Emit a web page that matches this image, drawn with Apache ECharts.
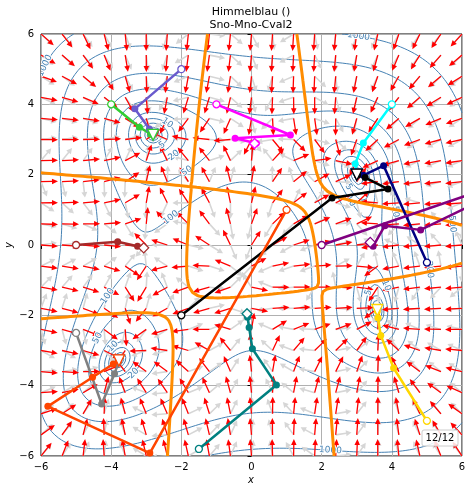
<!DOCTYPE html>
<html>
<head>
<meta charset="utf-8">
<script src="https://cdn.jsdelivr.net/npm/echarts@6/dist/echarts.min.js"></script>
<style>
  html, body { margin: 0; padding: 0; background: #fff; }
  #chart { width: 472px; height: 492px; }
</style>
</head>
<body>
<div id="chart"></div>
<script>
// ---- data ----
const xRange = [-6, 6];
const yRange = [-6, 6];
const tickValues = [-6, -4, -2, 0, 2, 4, 6];
const contourLevels = [1, 2, 5, 10, 20, 50, 100, 200, 500, 1000];
const quiverCount = 21; // arrows per side

const pathColors = ['#6a5acd', '#32cd32', '#ff00ff', '#00ffff', '#000080', '#000000',
                    '#800080', '#a52a2a', '#808080', '#ff4500', '#008080', '#ffd700'];
const pathPoints = [
  [[-2, 5], [-3.325, 3.872], [-2.909, 3.296], [-2.811, 3.142], [-2.805, 3.131]],
  [[-4, 4], [-3.193, 3.347], [-2.867, 3.151], [-2.805, 3.131]],
  [[-1, 4], [1.109, 3.128], [-0.467, 3.037], [0.138, 2.891], [0.087, 2.884]],
  [[4, 4], [3.188, 2.901], [2.957, 2.309], [2.987, 2.055], [3, 2]],
  [[5, -0.5], [3.765, 2.257], [3.189, 1.982], [3.017, 1.992], [3, 2]],
  [[-2, -2], [2.296, 1.338], [3.891, 1.592], [3.239, 1.917], [3.025, 1.989], [3, 2]],
  [[2, 0], [9.56, 2.58], [6.62, 1.30], [4.82, 0.43], [3.80, 0.55], [3.466, -0.037], [3.385, 0.074]],
  [[-5, 0], [-3.814, 0.093], [-3.248, -0.033], [-3.087, -0.077], [-3.073, -0.081]],
  [[-5, -2.5], [-4.271, -4.522], [-3.904, -3.664], [-3.794, -3.337], [-3.779, -3.283]],
  [[1, 1], [-2.898, -5.918], [-5.805, -4.588], [-4.531, -3.762], [-3.94, -3.384], [-3.789, -3.289], [-3.779, -3.283]],
  [[-1.5, -5.8], [0.71, -3.979], [0.026, -2.949], [-0.068, -2.348], [-0.113, -2.056], [-0.128, -1.954]],
  [[5, -5], [4.05, -3.497], [3.684, -2.571], [3.604, -2.068], [3.587, -1.878], [3.584, -1.848]]
];
// 'min' = ended in a minimum (triangle), 'saddle' = ended in a saddle (diamond)
const pathEnds = ['min', 'min', 'saddle', 'min', 'min', 'min',
                  'saddle', 'saddle', 'min', 'min', 'saddle', 'min'];

// contour label: level and rough spot where it sits
const labelLevels = [5, 10, 20, 50, 100, 5, 10, 50, 500, 100, 50, 10, 20, 5, 10, 200, 1000, 1000, 1000];
const labelSpots = [[-2.56, 2.84], [-2.42, 3.48], [-2.23, 2.56], [-1.85, 2.13], [-2.32, 0.81],
                    [2.83, 1.66], [2.88, 1.28], [4.08, 0.95], [5.73, 0.62],
                    [-4.14, -1.45], [-4.41, -2.64], [-3.93, -2.87], [-3.41, -3.63],
                    [3.23, -1.3], [3.83, -1.15], [5.05, -0.7],
                    [3.06, 5.9], [-5.88, 5.12], [2.26, -5.8]];

// ---- Himmelblau and its derivatives ----
function himmelblau(x, y) {
  const a = x * x + y - 11, b = x + y * y - 7;
  return a * a + b * b;
}
function gradient(x, y) {
  const a = x * x + y - 11, b = x + y * y - 7;
  return [4 * x * a + 2 * b, 2 * a + 4 * y * b];
}
function hessian(x, y) {
  return [12 * x * x + 4 * y - 42, 4 * (x + y), 12 * y * y + 4 * x - 26];
}
function hessDet(x, y) {
  const h = hessian(x, y);
  return h[0] * h[2] - h[1] * h[1];
}

// ---- marching squares ----
function makeGrid(n, fn) {
  const xs = [], ys = [], v = new Float64Array(n * n);
  for (let i = 0; i < n; i++) {
    xs.push(xRange[0] + (xRange[1] - xRange[0]) * i / (n - 1));
    ys.push(yRange[0] + (yRange[1] - yRange[0]) * i / (n - 1));
  }
  for (let j = 0; j < n; j++) for (let i = 0; i < n; i++) v[j * n + i] = fn(xs[i], ys[j]);
  return { n, xs, ys, v };
}
// cross = true draws ambiguous (saddle) cells as an X, as the reference does
function contourLines(g, level, cross) {
  const n = g.n, vals = g.v, xs = g.xs, ys = g.ys;
  const pts = new Map(), adj = new Map();
  function pt(key, i0, j0, i1, j1) {
    if (!pts.has(key)) {
      const a = vals[j0 * n + i0], b = vals[j1 * n + i1];
      const t = (level - a) / (b - a);
      pts.set(key, [xs[i0] + (xs[i1] - xs[i0]) * t, ys[j0] + (ys[j1] - ys[j0]) * t]);
    }
    return key;
  }
  function link(a, b) {
    if (!adj.has(a)) adj.set(a, []);
    if (!adj.has(b)) adj.set(b, []);
    adj.get(a).push(b); adj.get(b).push(a);
  }
  for (let j = 0; j < n - 1; j++) {
    for (let i = 0; i < n - 1; i++) {
      const v00 = vals[j * n + i], v10 = vals[j * n + i + 1];
      const v01 = vals[(j + 1) * n + i], v11 = vals[(j + 1) * n + i + 1];
      const s00 = v00 >= level, s10 = v10 >= level, s01 = v01 >= level, s11 = v11 >= level;
      const B = s00 !== s10 ? pt(2 * (j * n + i), i, j, i + 1, j) : null;
      const R = s10 !== s11 ? pt(2 * (j * n + i + 1) + 1, i + 1, j, i + 1, j + 1) : null;
      const T = s01 !== s11 ? pt(2 * ((j + 1) * n + i), i, j + 1, i + 1, j + 1) : null;
      const L = s00 !== s01 ? pt(2 * (j * n + i) + 1, i, j, i, j + 1) : null;
      const e = [B, R, T, L].filter(k => k !== null);
      if (e.length === 2) link(e[0], e[1]);
      else if (e.length === 4) {
        const sc = (v00 + v10 + v01 + v11) / 4 >= level;
        if (cross) { link(B, T); link(L, R); }
        else if (sc === s00) { link(B, R); link(T, L); } else { link(L, B); link(R, T); }
      }
    }
  }
  const lines = [], seen = new Set();
  function walk(start) {
    const line = [pts.get(start)];
    seen.add(start);
    let cur = start;
    while (true) {
      const nb = adj.get(cur).filter(k => !seen.has(k));
      if (!nb.length) {
        if (line.length > 2 && adj.get(cur).includes(start)) line.push(pts.get(start));
        break;
      }
      cur = nb[0];
      seen.add(cur);
      line.push(pts.get(cur));
    }
    return line;
  }
  for (const [k, nb] of adj) if (nb.length === 1 && !seen.has(k)) lines.push(walk(k));
  for (const k of adj.keys()) if (!seen.has(k)) lines.push(walk(k));
  return lines;
}

const fGrid = makeGrid(241, himmelblau);
const dGrid = makeGrid(101, hessDet);

const series = [];
const levelLines = {};
contourLevels.forEach(lv => {
  levelLines[lv] = contourLines(fGrid, lv, false);
  levelLines[lv].forEach(line => {
    series.push({
      type: 'line', data: line, symbol: 'none', silent: true, z: 1,
      lineStyle: { color: '#4682b4', width: 1 }
    });
  });
});
contourLines(dGrid, 0, true).forEach(line => {
  series.push({
    type: 'line', data: line, symbol: 'none', silent: true, z: 4,
    lineStyle: { color: '#ff8c00', width: 3 }
  });
});

// ---- quiver fields: steepest descent (red) and Newton step (grey) ----
const quiverPoints = [], descentDirs = [], newtonDirs = [];
for (let j = 0; j < quiverCount; j++) {
  for (let i = 0; i < quiverCount; i++) {
    const x = xRange[0] + (xRange[1] - xRange[0]) * i / (quiverCount - 1);
    const y = yRange[0] + (yRange[1] - yRange[0]) * j / (quiverCount - 1);
    const g = gradient(x, y), h = hessian(x, y);
    const gn = Math.hypot(g[0], g[1]) || 1;
    descentDirs.push([-g[0] / gn, -g[1] / gn]);
    const det = h[0] * h[2] - h[1] * h[1];
    const nx = -(h[2] * g[0] - h[1] * g[1]) / det;
    const ny = -(-h[1] * g[0] + h[0] * g[1]) / det;
    const nn = Math.hypot(nx, ny) || 1;
    newtonDirs.push([nx / nn, ny / nn]);
    quiverPoints.push([x, y]);
  }
}
function arrowSeries(dirs, st) {
  return {
    type: 'custom', coordinateSystem: 'cartesian2d', clip: true, silent: true, z: st.z,
    data: quiverPoints,
    renderItem: function (params, api) {
      const p = api.coord([api.value(0), api.value(1)]);
      const d = dirs[params.dataIndex];
      const ux = d[0], uy = -d[1];
      const nx = -uy, ny = ux;
      const L = st.len, hl = st.headLen, hw = st.headWidth / 2, w = st.width / 2;
      const bx = p[0] + ux * (L - hl), by = p[1] + uy * (L - hl);
      const pts = [
        [p[0] + nx * w, p[1] + ny * w], [bx + nx * w, by + ny * w], [bx + nx * hw, by + ny * hw],
        [p[0] + ux * L, p[1] + uy * L],
        [bx - nx * hw, by - ny * hw], [bx - nx * w, by - ny * w], [p[0] - nx * w, p[1] - ny * w]
      ];
      return { type: 'polygon', shape: { points: pts }, style: { fill: st.color } };
    }
  };
}
series.push(arrowSeries(newtonDirs, { color: '#d6d6d6', len: 16, headLen: 5.5, headWidth: 6, width: 1.6, z: 2 }));
series.push(arrowSeries(descentDirs, { color: '#ff0000', len: 17, headLen: 6, headWidth: 5.5, width: 1.3, z: 3 }));

// ---- contour labels snapped to the computed lines ----
const contourLabels = labelLevels.map((lv, k) => {
  const s = labelSpots[k];
  let best = null, bd = Infinity;
  levelLines[lv].forEach(line => {
    line.forEach((q, idx) => {
      const d = (q[0] - s[0]) ** 2 + (q[1] - s[1]) ** 2;
      if (d < bd) { bd = d; best = { line, idx }; }
    });
  });
  const ln = best.line, a = ln[Math.max(0, best.idx - 2)], b = ln[Math.min(ln.length - 1, best.idx + 2)];
  return { x: ln[best.idx][0], y: ln[best.idx][1], x1: a[0], y1: a[1], x2: b[0], y2: b[1], text: String(lv) };
});
series.push({
  type: 'custom', coordinateSystem: 'cartesian2d', clip: true, silent: true, z: 4,
  data: contourLabels.map(l => [l.x, l.y]),
  renderItem: function (params, api) {
    const l = contourLabels[params.dataIndex];
    const p = api.coord([l.x, l.y]), a = api.coord([l.x1, l.y1]), b = api.coord([l.x2, l.y2]);
    let ang = Math.atan2(b[1] - a[1], b[0] - a[0]);
    if (ang > Math.PI / 2) ang -= Math.PI;
    if (ang < -Math.PI / 2) ang += Math.PI;
    return {
      type: 'text', x: p[0], y: p[1], rotation: -ang,
      style: { text: l.text, fill: '#4682b4', font: '9px "DejaVu Sans"',
               stroke: '#fff', lineWidth: 2,
               align: 'center', verticalAlign: 'middle', textAlign: 'center', textVerticalAlign: 'middle' }
    };
  }
});

// ---- optimisation paths ----
pathPoints.forEach((pts, k) => {
  const c = pathColors[k];
  const data = pts.map((p, idx) => {
    if (idx === 0) {
      return { value: p, symbol: 'circle', symbolSize: 7, itemStyle: { color: '#fff', borderColor: c, borderWidth: 1.3 } };
    }
    if (idx === pts.length - 1) {
      const isMin = pathEnds[k] === 'min';
      return { value: p, symbol: isMin ? 'triangle' : 'diamond', symbolSize: isMin ? 11 : 10,
               symbolRotate: isMin ? 180 : 0,
               itemStyle: { color: '#fff', borderColor: c, borderWidth: 1.3 } };
    }
    return { value: p, symbol: 'circle', symbolSize: 7, itemStyle: { color: c, borderColor: c, borderWidth: 0 } };
  });
  series.push({
    type: 'line', data: data, z: 5, silent: true, showAllSymbol: true,
    lineStyle: { color: c, width: 2.5 }, itemStyle: { color: c }
  });
});

function tickLabel(v) { return v < 0 ? '\u2212' + (-v) : String(v); }
const axisCommon = {
  type: 'value', interval: 2,
  axisLine: { show: false },
  axisTick: { show: true, length: 4, lineStyle: { color: '#000', width: 1 } },
  axisLabel: { formatter: tickLabel, color: '#000', fontSize: 10, fontFamily: 'DejaVu Sans' },
  splitLine: { show: true, lineStyle: { color: '#b0b0b0', width: 1 } }
};

const option = {
  animation: false,
  textStyle: { fontFamily: 'DejaVu Sans' },
  grid: { left: 41, right: 10, top: 34, bottom: 36, show: true, borderColor: '#000', borderWidth: 1, backgroundColor: '#fff' },
  xAxis: Object.assign({}, axisCommon, { min: xRange[0], max: xRange[1],
    axisLabel: Object.assign({}, axisCommon.axisLabel, { margin: 6 }) }),
  yAxis: Object.assign({}, axisCommon, { min: yRange[0], max: yRange[1],
    axisLabel: Object.assign({}, axisCommon.axisLabel, { margin: 7 }) }),
  graphic: [
    { type: 'text', x: 251, y: 12, style: { text: 'Himmelblau ()', fill: '#000', font: '11px "DejaVu Sans"', textAlign: 'center', textVerticalAlign: 'middle' } },
    { type: 'text', x: 251, y: 25, style: { text: 'Sno-Mno-Cval2', fill: '#000', font: '11px "DejaVu Sans"', textAlign: 'center', textVerticalAlign: 'middle' } },
    { type: 'text', x: 251, y: 480, style: { text: 'x', fill: '#000', font: 'italic 10px "DejaVu Sans"', textAlign: 'center', textVerticalAlign: 'middle' } },
    { type: 'text', x: 9, y: 245, rotation: Math.PI / 2, style: { text: 'y', fill: '#000', font: 'italic 10px "DejaVu Sans"', textAlign: 'center', textVerticalAlign: 'middle' } },
    { type: 'rect', z: 100, shape: { x: 422, y: 430, width: 36, height: 16, r: 2 }, style: { fill: 'rgba(255,255,255,0.85)', stroke: '#cccccc', lineWidth: 1 } },
    { type: 'text', z: 101, x: 440, y: 438, style: { text: '12/12', fill: '#000', font: '10px "DejaVu Sans"', textAlign: 'center', textVerticalAlign: 'middle' } }
  ],
  series: series
};

const chart = echarts.init(document.getElementById('chart'));
chart.setOption(option);
</script>
</body>
</html>
